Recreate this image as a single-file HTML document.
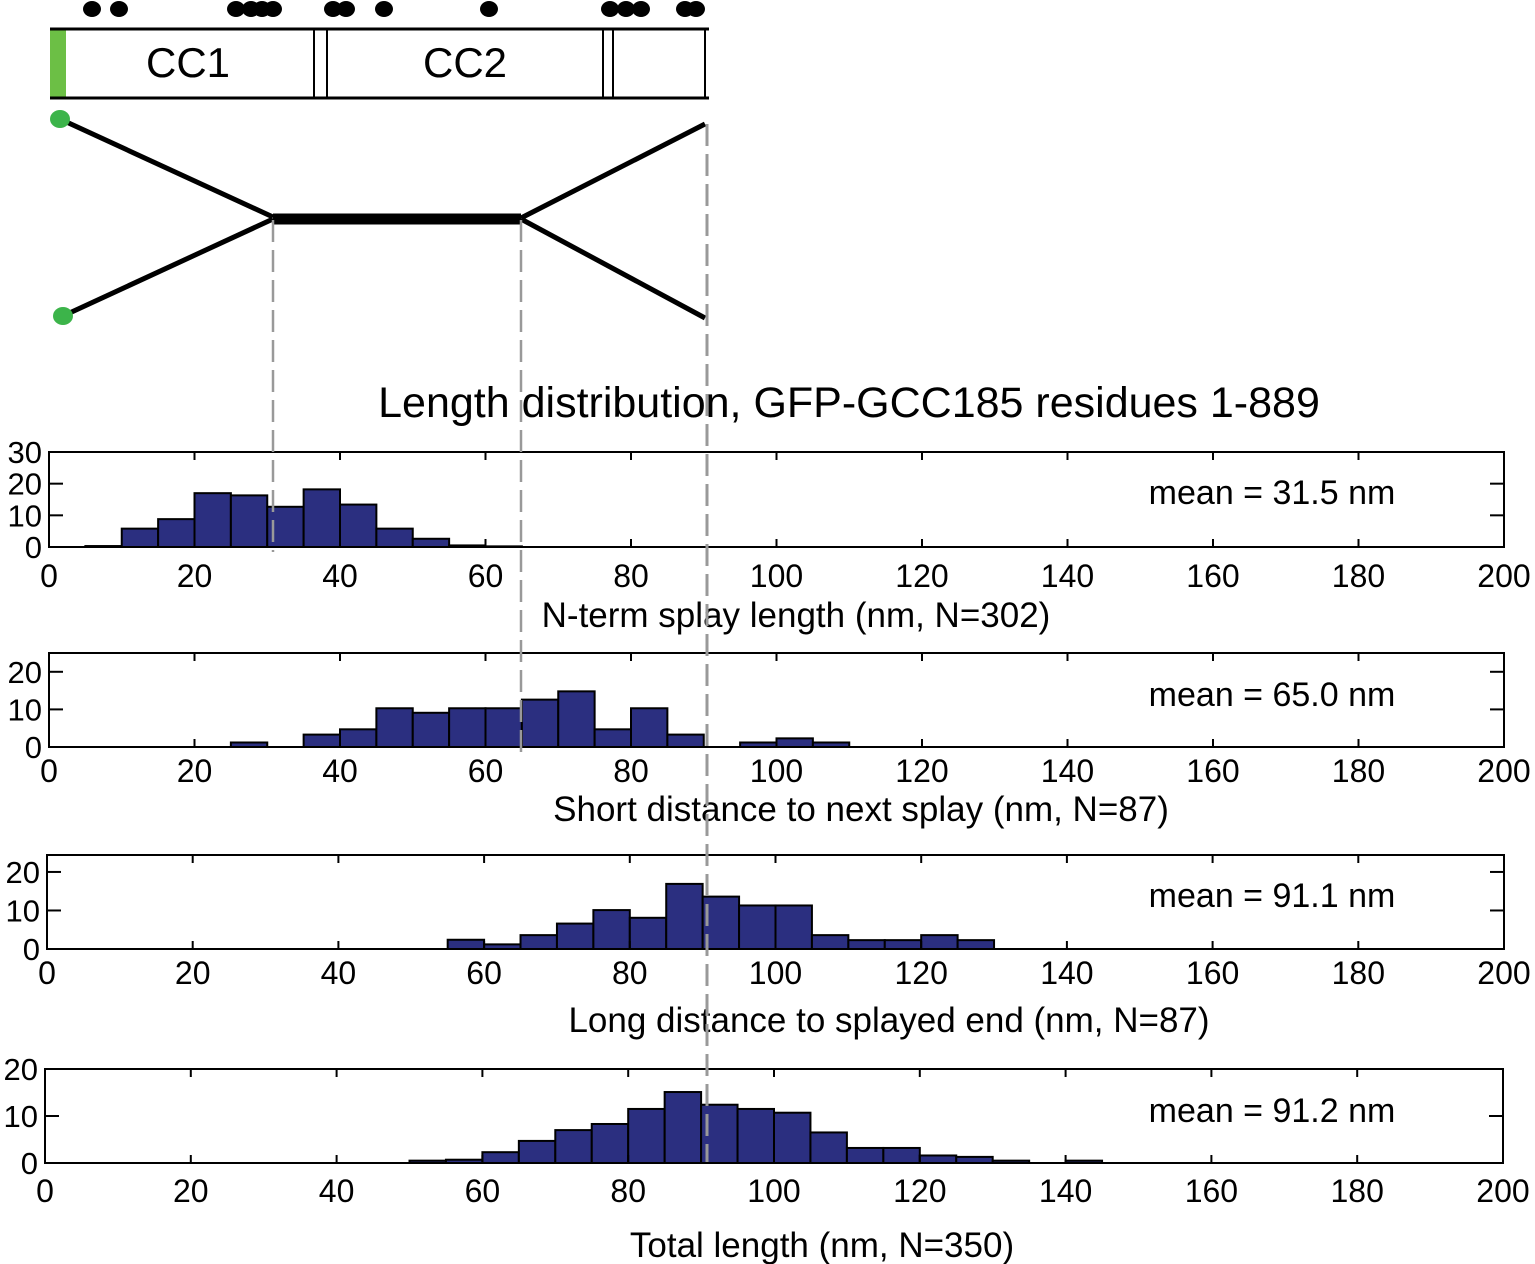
<!DOCTYPE html>
<html><head><meta charset="utf-8">
<style>
body{margin:0;background:#fff;}
svg{display:block;font-family:"Liberation Sans",sans-serif;}
</style></head>
<body>
<svg id="fig" width="1535" height="1264" viewBox="0 0 1535 1264" xmlns="http://www.w3.org/2000/svg">
<g id="schematic">
  <rect x="50" y="29" width="16" height="69" fill="#6cbf45"/>
  <line x1="50" y1="29" x2="709" y2="29" stroke="#000" stroke-width="3"/>
  <line x1="50" y1="98" x2="709" y2="98" stroke="#000" stroke-width="3"/>
  <line x1="314" y1="29" x2="314" y2="98" stroke="#000" stroke-width="2"/>
  <line x1="327" y1="29" x2="327" y2="98" stroke="#000" stroke-width="2"/>
  <line x1="603" y1="29" x2="603" y2="98" stroke="#000" stroke-width="2"/>
  <line x1="613" y1="29" x2="613" y2="98" stroke="#000" stroke-width="2"/>
  <line x1="705" y1="29" x2="705" y2="98" stroke="#000" stroke-width="2"/>
  <text x="188" y="77" font-size="42" text-anchor="middle">CC1</text>
  <text x="465" y="77" font-size="42" text-anchor="middle">CC2</text>
  <g id="dots"></g>
  <line x1="60" y1="119" x2="273" y2="217" stroke="#000" stroke-width="5"/>
  <line x1="63" y1="316" x2="273" y2="219" stroke="#000" stroke-width="5"/>
  <line x1="273" y1="219" x2="521" y2="219" stroke="#000" stroke-width="11"/>
  <line x1="521" y1="218" x2="705" y2="124" stroke="#000" stroke-width="5"/>
  <line x1="521" y1="219" x2="705" y2="318" stroke="#000" stroke-width="5"/>
  <ellipse cx="60" cy="119" rx="10" ry="9" fill="#3cb44a"/>
  <ellipse cx="63" cy="316" rx="10" ry="9" fill="#3cb44a"/>
</g>
<text x="849" y="417" font-size="43" text-anchor="middle">Length distribution, GFP-GCC185 residues 1-889</text>
<g id="panels"></g>
<g id="guides">
  <line x1="273" y1="220" x2="273" y2="552" stroke="#999" stroke-width="2.5" stroke-dasharray="22,8"/>
  <line x1="521" y1="220" x2="521" y2="752" stroke="#999" stroke-width="2.5" stroke-dasharray="22,8"/>
  <line x1="707" y1="124" x2="707" y2="1162" stroke="#999" stroke-width="3" stroke-dasharray="22,8"/>
</g>
</svg>
<script>
const dotXs=[92,119,236,251,262,273,333,346,384,489,610,626,641,685,696];
const binStarts=[0,5,10,15,20,25,30,35,40,45,50,55,60,65,70,75,80,85,90,95,100,105,110,115,120,125,130,135,140,145];
const nTermCounts=[0,0.3,5.8,8.8,17,16.3,12.7,18.2,13.4,5.8,2.6,0.5,0.2,0,0,0,0,0,0,0,0,0,0,0,0,0,0,0,0,0];
const shortCounts=[0,0,0,0,0,1.2,0,3.3,4.7,10.3,9.1,10.3,10.3,12.6,14.8,4.7,10.3,3.3,0,1.2,2.3,1.2,0,0,0,0,0,0,0,0];
const longCounts=[0,0,0,0,0,0,0,0,0,0,0,2.4,1.2,3.6,6.6,10.1,8.1,16.9,13.6,11.3,11.3,3.6,2.3,2.3,3.6,2.3,0,0,0,0];
const totalCounts=[0,0,0,0,0,0,0,0,0,0,0.5,0.7,2.3,4.7,7,8.3,11.5,15.1,12.4,11.5,10.7,6.5,3.2,3.2,1.6,1.3,0.5,0,0.5,0];
const xTicks=[0,20,40,60,80,100,120,140,160,180,200];
const p1YTicks=[0,10,20,30];
const p2YTicks=[0,10,20];
const p3YTicks=[0,10,20];
const p4YTicks=[0,10,20];
const means=["mean = 31.5 nm","mean = 65.0 nm","mean = 91.1 nm","mean = 91.2 nm"];
const xTitles=["N-term splay length (nm, N=302)","Short distance to next splay (nm, N=87)","Long distance to splayed end (nm, N=87)","Total length (nm, N=350)"];

const NS="http://www.w3.org/2000/svg";
function mk(tag,attrs,parent){const e=document.createElementNS(NS,tag);for(const k in attrs)e.setAttribute(k,attrs[k]);parent.appendChild(e);return e;}

const dg=document.getElementById('dots');
dotXs.forEach(x=>{const d=mk('ellipse',{cx:x,cy:9,rx:9,ry:8,fill:'#000'},dg);

});

const panels=[
 {l:49,r:1504,t:452,b:547,ymax:30,yt:p1YTicks,data:nTermCounts,tly:587,tty:627,ttx:796,my:504},
 {l:49,r:1504,t:653,b:747,ymax:25,yt:p2YTicks,data:shortCounts,tly:782,tty:821,ttx:861,my:706},
 {l:47,r:1504,t:855,b:949,ymax:24.4,yt:p3YTicks,data:longCounts,tly:984,tty:1032,ttx:889,my:907},
 {l:45,r:1503,t:1069,b:1163,ymax:20,yt:p4YTicks,data:totalCounts,tly:1202,tty:1257,ttx:822,my:1122}
];
const pg=document.getElementById('panels');
panels.forEach((p,i)=>{
 const g=mk('g',{},pg);
 
 
 const xs=v=>p.l+(v/200)*(p.r-p.l);
 const ys=v=>p.b-(v/p.ymax)*(p.b-p.t);
 p.data.forEach((c,j)=>{
  if(c<=0)return;
  const x0=xs(binStarts[j]),x1=xs(binStarts[j]+5);
  const b=mk('rect',{x:x0,y:ys(c),width:x1-x0,height:p.b-ys(c),fill:'#2b2f80',stroke:'#000','stroke-width':2},g);
  
  
 });
 const fr=mk('rect',{x:p.l,y:p.t,width:p.r-p.l,height:p.b-p.t,fill:'none',stroke:'#000','stroke-width':2},g);
 
 
 xTicks.forEach(v=>{
  const x=xs(v);
  mk('line',{x1:x,y1:p.b,x2:x,y2:p.b-8,stroke:'#000','stroke-width':2},g);
  mk('line',{x1:x,y1:p.t,x2:x,y2:p.t+8,stroke:'#000','stroke-width':2},g);
  const t=mk('text',{x:x,y:p.tly,'font-size':32,'text-anchor':'middle'},g);
  t.textContent=v;
  
  
 });
 p.yt.forEach(v=>{
  const y=ys(v);
  mk('line',{x1:p.l,y1:y,x2:p.l+14,y2:y,stroke:'#000','stroke-width':2},g);
  mk('line',{x1:p.r,y1:y,x2:p.r-14,y2:y,stroke:'#000','stroke-width':2},g);
  const t=mk('text',{x:p.l-7,y:y+11,'font-size':31,'text-anchor':'end'},g);
  t.textContent=v;
  
  
 });
 const m=mk('text',{x:1272,y:p.my,'font-size':34,'text-anchor':'middle'},g);
 m.textContent=means[i];
 
 
 const tt=mk('text',{x:p.ttx,y:p.tty,'font-size':35,'text-anchor':'middle'},g);
 tt.textContent=xTitles[i];
 
 
});
</script>
</body></html>
